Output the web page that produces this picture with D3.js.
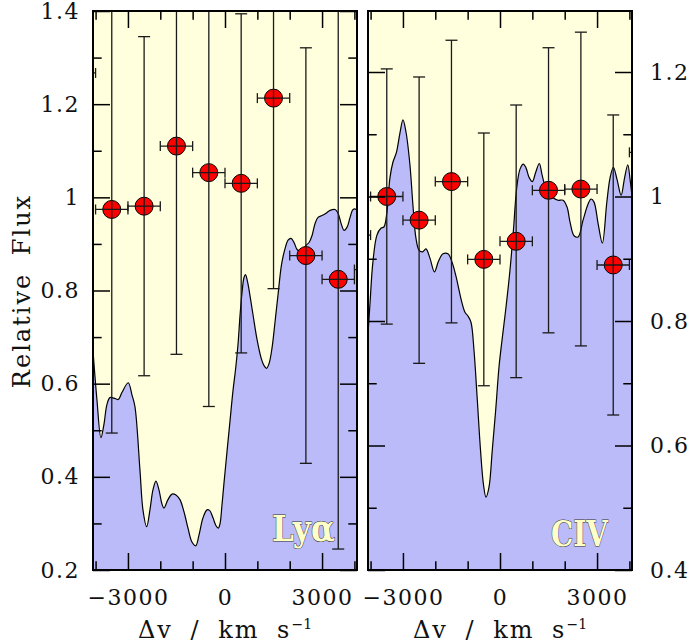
<!DOCTYPE html>
<html lang="en">
<head>
<meta charset="utf-8">
<title>Lya / CIV stacked flux</title>
<script src="https://cdn.jsdelivr.net/npm/d3@7"></script>
<style>
  body { margin: 0; background: #fff; }
  text { font-family: "DejaVu Serif", serif; fill: #111; }
  .axis text { font-family: "DejaVu Serif", serif; font-size: 22px; letter-spacing: 1.5px; fill: #111; }
  .axis line { stroke: #000; stroke-width: 1.5px; }
  .axis path { display: none; }
  .title { font-size: 24px; letter-spacing: 2px; word-spacing: 8px; }
  .frame { fill: none; stroke: #000; stroke-width: 2px; }
  .bg { fill: #ffffde; }
  .spec-fill { fill: #bbbbf9; stroke: none; }
  .spec { fill: none; stroke: #000; stroke-width: 1.2px; }
  .err line { stroke: #1a1a1a; stroke-width: 1.3px; }
  .pt { fill: #ff0000; stroke: #000; stroke-width: 1px; }
  .ion { fill: #ffffc8; stroke: #333; stroke-width: 1px; font-size: 35px; font-weight: bold; paint-order: stroke; }
</style>
</head>
<body>
<svg width="689" height="644"></svg>

<script>
// binned measurements (centre velocity of each bin, +-500 km/s wide)
var velBins = [-4500, -3500, -2500, -1500, -500, 500, 1500, 2500, 3500, 4500];
var binHalfWidth = 500;

var lyaPts    = [1.267, 0.974, 0.981, 1.110, 1.053, 1.030, 1.213, 0.875, 0.824, 0.845];
var lyaPtsErr = [0.40, 0.480, 0.364, 0.447, 0.502, 0.364, 0.409, 0.446, 0.579, 0.40];
var civPts    = [0.938, 1.000, 0.962, 1.024, 0.899, 0.928, 1.010, 1.012, 0.890, 1.071];
var civPtsErr = [0.20, 0.205, 0.230, 0.227, 0.203, 0.219, 0.229, 0.252, 0.241, 0.20];

// mean spectra
var lyaVel = [-4083, -3959, -3835, -3743, -3650, -3557, -3433, -3300, -3186, -2991, -2876, -2784, -2629, -2536,
  -2422, -2320, -2227, -2134, -2041, -1949, -1887, -1763, -1639, -1516, -1392, -1268, -1144, -1021, -906, -804,
  -680, -557, -479, -371, -278, -207, -155, -93, -31, 62, 155, 247, 325, 402, 464, 526, 588, 634, 696, 742, 866,
  990, 1113, 1206, 1284, 1361, 1454, 1547, 1639, 1748, 1856, 1949, 2041, 2134, 2227, 2320, 2413, 2505, 2598,
  2691, 2784, 2876, 3000, 3124, 3248, 3402, 3495, 3588, 3681, 3774, 3866, 3959, 4052, 4083];
var lyaFlux = [0.673, 0.566, 0.484, 0.512, 0.555, 0.570, 0.569, 0.566, 0.581, 0.602, 0.576, 0.551, 0.415, 0.329,
  0.293, 0.329, 0.372, 0.391, 0.372, 0.342, 0.333, 0.351, 0.363, 0.361, 0.351, 0.325, 0.290, 0.260, 0.252, 0.275,
  0.312, 0.329, 0.328, 0.312, 0.295, 0.290, 0.299, 0.340, 0.387, 0.454, 0.520, 0.585, 0.630, 0.684, 0.746, 0.796,
  0.828, 0.834, 0.819, 0.802, 0.748, 0.695, 0.656, 0.639, 0.633, 0.643, 0.677, 0.733, 0.791, 0.856, 0.890, 0.908,
  0.912, 0.903, 0.888, 0.884, 0.888, 0.897, 0.903, 0.918, 0.944, 0.957, 0.961, 0.966, 0.972, 0.974, 0.966, 0.944,
  0.929, 0.936, 0.957, 0.974, 0.974, 0.970];

var civVel = [-4092, -4021, -3928, -3804, -3681, -3588, -3495, -3402, -3310, -3201, -3093, -2999, -2907, -2784,
  -2691, -2598, -2505, -2397, -2289, -2165, -2026, -1902, -1763, -1608, -1485, -1361, -1268, -1175, -1083, -990,
  -897, -804, -711, -603, -510, -433, -340, -238, -133, -31, 62, 176, 309, 411, 517, 619, 721, 804, 897, 999,
  1104, 1216, 1299, 1392, 1516, 1639, 1794, 1949, 2072, 2165, 2289, 2413, 2567, 2722, 2815, 2907, 3031, 3164,
  3300, 3402, 3504, 3619, 3743, 3851, 3950, 4021, 4083];
var civFlux = [0.769, 0.826, 0.895, 0.938, 0.949, 0.951, 0.975, 1.030, 1.055, 1.071, 1.102, 1.123, 1.104, 1.051,
  0.986, 0.933, 0.914, 0.911, 0.916, 0.901, 0.879, 0.896, 0.908, 0.908, 0.895, 0.872, 0.850, 0.829, 0.814, 0.808,
  0.798, 0.753, 0.681, 0.593, 0.537, 0.517, 0.533, 0.593, 0.657, 0.726, 0.769, 0.818, 0.882, 0.943, 1.014, 1.044,
  1.052, 1.046, 1.031, 1.024, 1.039, 1.053, 1.035, 1.017, 1.004, 0.998, 0.994, 0.994, 0.983, 0.959, 0.937, 0.935,
  0.962, 0.988, 0.996, 0.991, 0.957, 0.925, 0.990, 1.030, 1.047, 1.027, 1.002, 1.030, 1.051, 1.027, 0.999];

// tick values
var velMajor = [-3000, 0, 3000];
var velMinor = [-4000, -2000, -1000, 1000, 2000, 4000];
var lyaMajor = [0.2, 0.4, 0.6, 0.8, 1.0, 1.2, 1.4];
var lyaMinor = [0.3, 0.5, 0.7, 0.9, 1.1, 1.3];
var civMajor = [0.4, 0.6, 0.8, 1.0, 1.2];
var civMinor = [0.5, 0.7, 0.9, 1.1];

var svg = d3.select("svg");
var top_ = 11, bottom = 570;
var major = 17, minor = 8.7;

var panels = [
  {id: "lya", left: 93, right: 357, yDomain: [0.2, 1.4], vel: lyaVel, flux: lyaFlux, pts: lyaPts, err: lyaPtsErr,
   yMajor: lyaMajor, yMinor: lyaMinor, side: "left", ion: "Ly\u03b1", ionX: 272, ionY: 541, ionLen: 63},
  {id: "civ", left: 368, right: 632, yDomain: [0.4, 1.298], vel: civVel, flux: civFlux, pts: civPts, err: civPtsErr,
   yMajor: civMajor, yMinor: civMinor, side: "right", ion: "CIV", ionX: 551, ionY: 546, ionLen: 57}
];

function velFormat(d) { return d < 0 ? "\u2212" + Math.abs(d) : "" + d; }
function fluxFormat(d) { return "" + (+d.toFixed(1)); }

panels.forEach(function(p) {
  var x = d3.scaleLinear().domain([-4080, 4080]).range([p.left, p.right]);
  var y = d3.scaleLinear().domain(p.yDomain).range([bottom, top_]);

  svg.append("clipPath").attr("id", "clip-" + p.id)
    .append("rect")
    .attr("x", p.left).attr("y", top_)
    .attr("width", p.right - p.left).attr("height", bottom - top_);

  var g = svg.append("g").attr("clip-path", "url(#clip-" + p.id + ")");

  g.append("rect").attr("class", "bg")
    .attr("x", p.left).attr("y", top_)
    .attr("width", p.right - p.left).attr("height", bottom - top_);

  var spec = d3.zip(p.vel, p.flux);
  var area = d3.area()
    .x(function(d) { return x(d[0]); })
    .y0(bottom)
    .y1(function(d) { return y(d[1]); })
    .curve(d3.curveCatmullRom.alpha(0.5));
  var line = d3.line()
    .x(function(d) { return x(d[0]); })
    .y(function(d) { return y(d[1]); })
    .curve(d3.curveCatmullRom.alpha(0.5));

  g.append("path").datum(spec).attr("class", "spec-fill").attr("d", area);
  g.append("path").datum(spec).attr("class", "spec").attr("d", line);

  g.append("text").attr("class", "ion")
    .attr("x", p.ionX).attr("y", p.ionY)
    .attr("textLength", p.ionLen).attr("lengthAdjust", "spacingAndGlyphs")
    .text(p.ion);

  var pts = d3.range(velBins.length).map(function(i) {
    return {v: velBins[i], f: p.pts[i], e: p.err[i]};
  });

  g.selectAll("circle.pt").data(pts).enter().append("circle")
    .attr("class", "pt")
    .attr("cx", function(d) { return x(d.v); })
    .attr("cy", function(d) { return y(d.f); })
    .attr("r", 9);

  var err = g.append("g").attr("class", "err").selectAll("g").data(pts).enter().append("g");
  err.append("line")
    .attr("x1", function(d) { return x(d.v); }).attr("x2", function(d) { return x(d.v); })
    .attr("y1", function(d) { return y(d.f - d.e); }).attr("y2", function(d) { return y(d.f + d.e); });
  err.append("line")
    .attr("x1", function(d) { return x(d.v - binHalfWidth); }).attr("x2", function(d) { return x(d.v + binHalfWidth); })
    .attr("y1", function(d) { return y(d.f); }).attr("y2", function(d) { return y(d.f); });
  // caps
  [-1, 1].forEach(function(s) {
    err.append("line")
      .attr("x1", function(d) { return x(d.v) - 6; }).attr("x2", function(d) { return x(d.v) + 6; })
      .attr("y1", function(d) { return y(d.f + s * d.e); }).attr("y2", function(d) { return y(d.f + s * d.e); });
    err.append("line")
      .attr("x1", function(d) { return x(d.v + s * binHalfWidth); }).attr("x2", function(d) { return x(d.v + s * binHalfWidth); })
      .attr("y1", function(d) { return y(d.f) - 5; }).attr("y2", function(d) { return y(d.f) + 5; });
  });

  // axes: major + minor ticks on all four sides, pointing inward
  function addAxis(axisFn, scale, vals, len, transform, fmt, pad) {
    var a = axisFn(scale).tickValues(vals).tickSize(-len).tickPadding(pad || 3)
      .tickFormat(fmt || function() { return ""; });
    svg.append("g").attr("class", "axis").attr("transform", transform).call(a);
  }
  addAxis(d3.axisBottom, x, velMajor, major, "translate(0," + bottom + ")", velFormat, 19);
  addAxis(d3.axisBottom, x, velMinor, minor, "translate(0," + bottom + ")");
  addAxis(d3.axisTop, x, velMajor, major, "translate(0," + top_ + ")");
  addAxis(d3.axisTop, x, velMinor, minor, "translate(0," + top_ + ")");
  addAxis(d3.axisLeft, y, p.yMajor, major, "translate(" + p.left + ",0)", p.side == "left" ? fluxFormat : null, 13);
  addAxis(d3.axisLeft, y, p.yMinor, minor, "translate(" + p.left + ",0)");
  addAxis(d3.axisRight, y, p.yMajor, major, "translate(" + p.right + ",0)", p.side == "right" ? fluxFormat : null, 18);
  addAxis(d3.axisRight, y, p.yMinor, minor, "translate(" + p.right + ",0)");

  svg.append("rect").attr("class", "frame")
    .attr("x", p.left).attr("y", top_)
    .attr("width", p.right - p.left).attr("height", bottom - top_);

  var t = svg.append("text").attr("class", "title")
    .attr("x", (p.left + p.right) / 2).attr("y", 638)
    .attr("text-anchor", "middle");
  t.append("tspan").text("\u0394v / km s");
  t.append("tspan").attr("dy", -9).style("font-size", "14px").style("letter-spacing", "0px").text("\u22121");
});

svg.append("text").attr("class", "title")
  .attr("transform", "translate(30,291) rotate(-90)")
  .attr("text-anchor", "middle")
  .text("Relative Flux");
</script>
</body>
</html>
